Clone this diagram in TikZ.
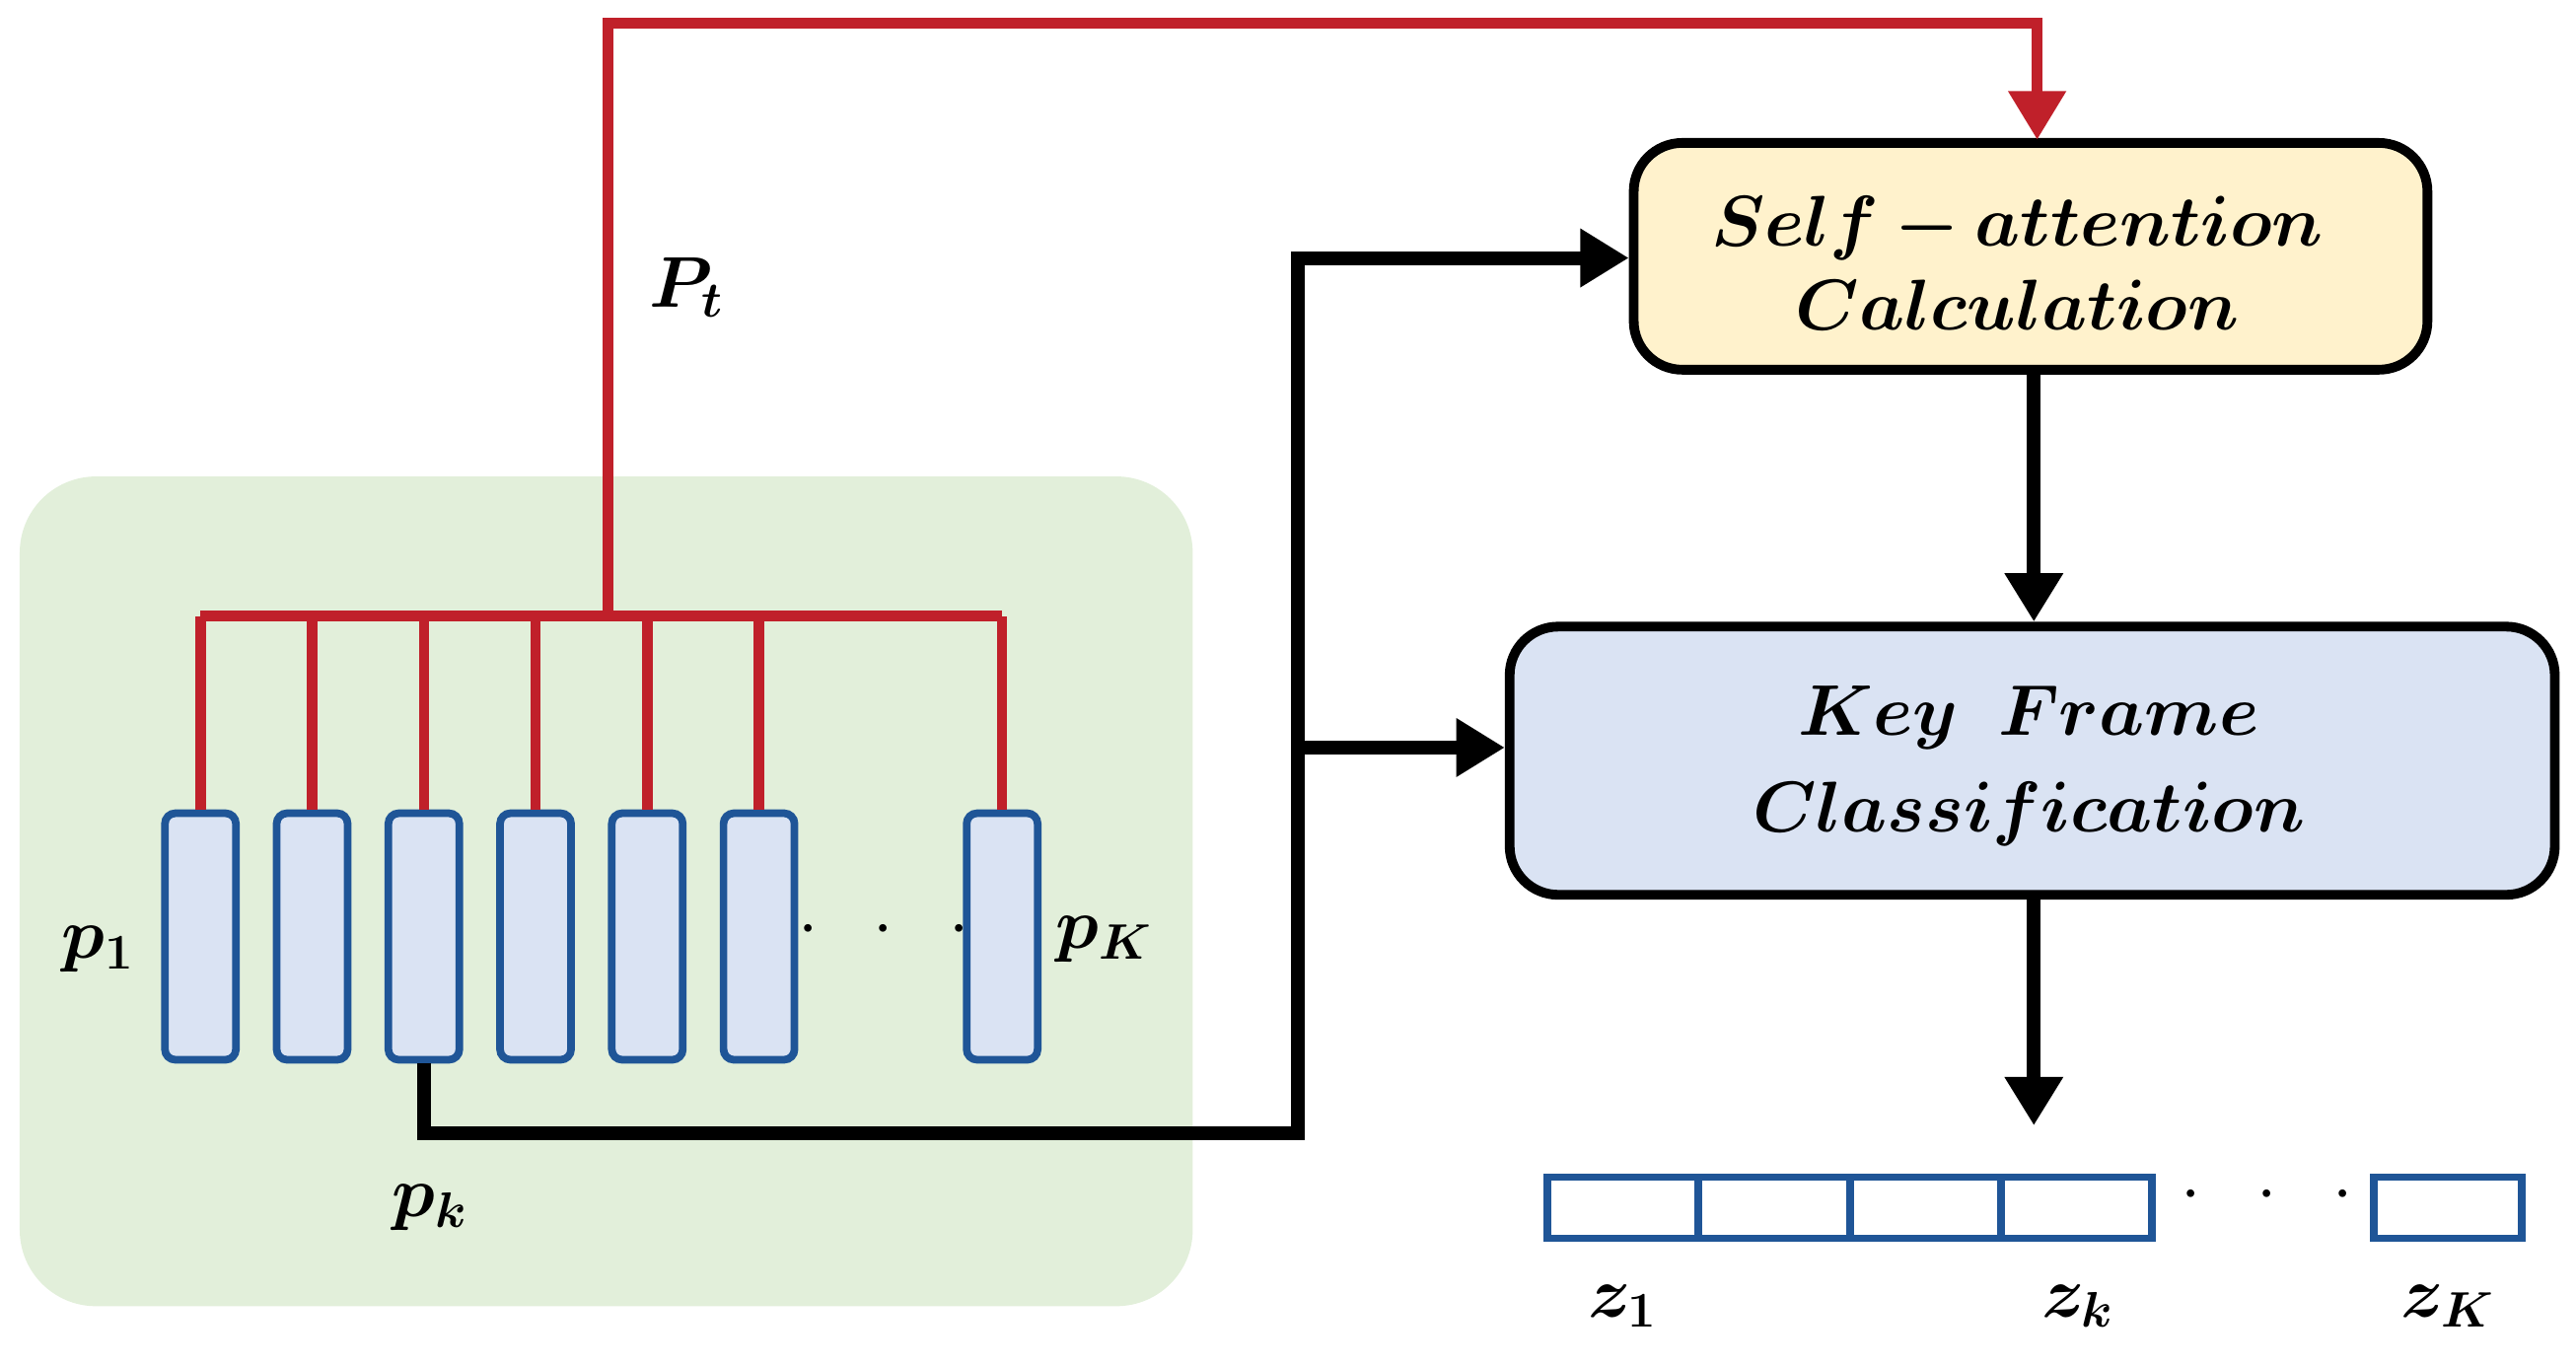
\documentclass[tikz,border=0pt]{standalone}
\usepackage{amsmath,bm}
\usetikzlibrary{arrows.meta}
\definecolor{gbg}{HTML}{E2EFDA}
\definecolor{bfill}{HTML}{DAE3F3}
\definecolor{bdraw}{HTML}{1F5597}
\definecolor{yfill}{HTML}{FFF2CC}
\definecolor{rline}{HTML}{C0202A}
\begin{document}
\begin{tikzpicture}[x=0.016658cm,y=-0.016658cm,
 bar/.style={draw=bdraw,fill=bfill,line width=2.2pt,rounded corners=3pt,minimum width=0.72cm,minimum height=2.5cm,inner sep=0pt},
 big/.style={draw=black,line width=2.8pt,rounded corners=14pt,inner sep=0pt},
 red/.style={draw=rline,line width=3pt},
 blk/.style={draw=black,line width=4pt},
 arr/.style={-{Triangle[length=14pt,width=16pt]}},
 lab/.style={font=\fontsize{22}{26}\selectfont},
 zc/.style={draw=bdraw,fill=white,line width=2.2pt,minimum height=0.62cm,inner sep=0pt}]
\useasboundingbox (0,0) rectangle (1568,832);
\fill[gbg,rounded corners=22pt] (12,290) rectangle (726,795);
\foreach \i/\x in {1/122,2/190,3/258,4/326,5/394,6/462,7/610}{
 \node[bar] (b\i) at (\x,570) {};
 \draw[red] (b\i.north) -- (\x,375);}
\coordinate (rl) at (122,375); \coordinate (rr) at (610,375);
\draw[red] (rl) -- (rr);
\node[big,fill=yfill,minimum width=8.05cm,minimum height=2.3cm] (sa) at (1236,156) {};
\node[lab,align=center] at (1228,160) {$\bm{Self-attention}$\\[-2pt]$\bm{Calculation}$};
\node[big,fill=bfill,minimum width=10.6cm,minimum height=2.72cm] (kf) at (1237,463) {};
\node[lab,align=center] at (1235,466) {$\bm{Key\;\;Frame}$\\[2pt]$\bm{Classification}$};
\coordinate (ptop) at (370,14); \coordinate (pbr) at (370,375);
\draw[red,arr] (pbr) -- (ptop) -| (1240,85);
\node[lab] at (418,175) {$\bm{P_t}$};
\node[lab] at (60,578) {$\bm{p_1}$};
\node[lab] at (672,572) {$\bm{p_K}$};
\node[lab] at (262,735) {$\bm{p_k}$};
\node[lab] at (538,566) {$\cdot\;\;\cdot\;\;\cdot$};
\coordinate (c1) at (258,690); \coordinate (c2) at (790,690); \coordinate (c3) at (790,157); \coordinate (c4) at (790,455);
\draw[blk,arr] (b3.south) -- (c1) -- (c2) -- (c3) -- (sa.west|-c3);
\draw[blk,arr] (c4) -- (kf.west|-c4);
\draw[blk,arr] (sa.south-|1238,0) -- (kf.north-|1238,0);
\coordinate (zt) at (1238,685);
\draw[blk,arr] (kf.south-|1238,0) -- (zt);
\foreach \i/\x in {1/988,2/1080,3/1172,4/1264}{\node[zc,minimum width=1.53cm] (z\i) at (\x,735) {};}
\node[zc,minimum width=1.5cm] (z5) at (1490,735) {};
\node[lab] at (1380,728) {$\cdot\;\;\cdot\;\;\cdot$};
\node[lab] at (988,795) {$\bm{z_1}$};
\node[lab] at (1265,795) {$\bm{z_k}$};
\node[lab] at (1490,795) {$\bm{z_K}$};
\end{tikzpicture}
\end{document}
